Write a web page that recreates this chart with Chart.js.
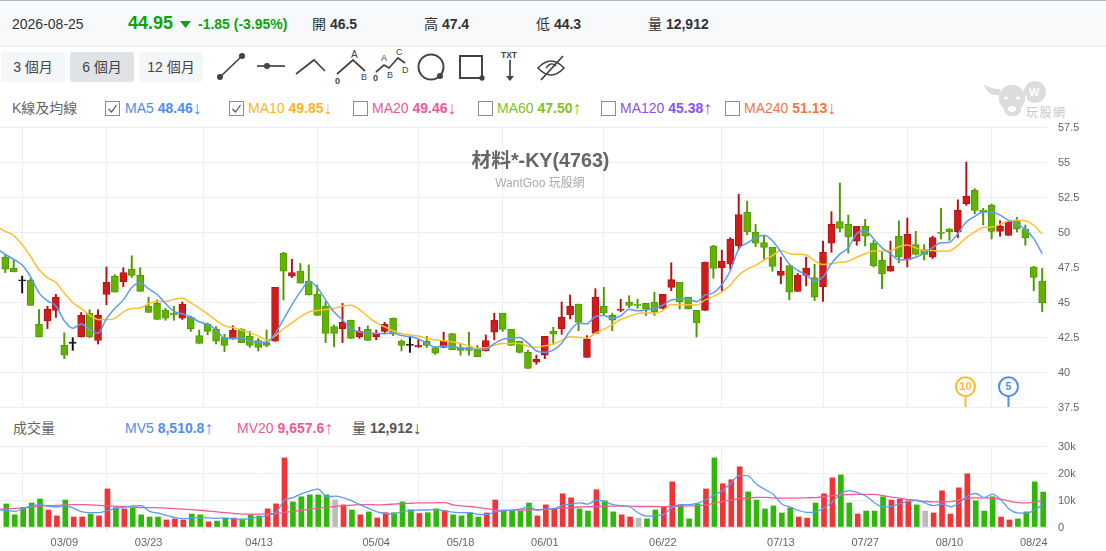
<!DOCTYPE html>
<html lang="zh-Hant">
<head>
<meta charset="UTF-8" />
<title>材料*-KY(4763)</title>
<script src="https://cdn.jsdelivr.net/npm/chart.js"></script>
<style>
  html, body { margin: 0; padding: 0; background: #fff; overflow: hidden; }
  body { width: 1106px; height: 551px; position: relative; font-family: "Liberation Sans", "Noto Sans CJK TC", sans-serif; font-size: 14px; color: #333; }
  .abs { position: absolute; white-space: nowrap; line-height: 16px; }
  #top { position: absolute; left: 0; top: 0; width: 1106px; height: 47px; background: #f7f9fb; border-top: 1px solid #b2bac2; border-bottom: 1px solid #e8ebee; box-sizing: border-box; }
  .btn { position: absolute; top: 52px; height: 30px; width: 64px; line-height: 30px; text-align: center; background: #f5f6f8; border-radius: 3px; color: #444; }
  .box { position: absolute; top: 101px; width: 13px; height: 13px; border: 1px solid #8c8c8c; background: #fff; }
  .box svg { position: absolute; left: 1px; top: 1px; }
  b { font-weight: bold; }
  canvas { position: absolute; left: 0; }
  .arrow { font-weight: normal; font-size: 18px; line-height: 0; vertical-align: -1px; }
</style>
</head>
<body>
<div id="top"></div>
<div class="abs" style="left:12px;top:16px;">2026-08-25</div>
<div class="abs" style="left:128px;top:15px;font-size:18px;font-weight:bold;color:#0aa50a;">44.95</div>
<svg class="abs" style="left:180px;top:21px;" width="12" height="8"><path d="M0 0H11L5.5 7Z" fill="#0aa50a"/></svg>
<div class="abs" style="left:198px;top:16px;font-weight:bold;color:#0aa50a;">-1.85 (-3.95%)</div>
<div class="abs" style="left:312px;top:16px;">開 <b>46.5</b></div>
<div class="abs" style="left:424px;top:16px;">高 <b>47.4</b></div>
<div class="abs" style="left:536px;top:16px;">低 <b>44.3</b></div>
<div class="abs" style="left:648px;top:16px;">量 <b>12,912</b></div>

<div class="btn" style="left:1px;">3 個月</div>
<div class="btn" style="left:70px;background:#dfe3e6;">6 個月</div>
<div class="btn" style="left:139px;">12 個月</div>

<svg class="abs" style="left:0;top:0;" width="1106" height="125" fill="none" stroke="#444" stroke-width="1.7">
  <path d="M220 77L242 56"/><circle cx="220" cy="77" r="2.2" fill="#444"/><circle cx="242" cy="56" r="2.2" fill="#444"/>
  <path d="M257 66H285"/><circle cx="267" cy="66" r="2.2" fill="#444"/>
  <path d="M296 74L314 60L325 71"/>
  <path d="M337 74L353 60L365 71"/>
  <path d="M376 72L384 65L389 68L398 58L405 63"/>
  <circle cx="431" cy="67" r="12.5" stroke-width="2"/><circle cx="440" cy="76" r="2.2" fill="#444"/>
  <rect x="460" y="56" width="22" height="22" stroke-width="2"/><circle cx="482" cy="78" r="1.8" fill="#444"/>
  <path d="M510 60V79"/><path d="M506 76H514L510 81Z" fill="#444" stroke="none"/>
  <path d="M538 68Q551 54 564 68Q551 82 538 68Z" stroke-width="1.6"/><path d="M541 80L563 56" stroke-width="1.8"/><path d="M546 68Q551 61 556 66" stroke-width="1.4"/>
  <g fill="#444" stroke="none" font-size="9" font-family="Liberation Sans">
    <text x="351" y="58" font-size="10">A</text><text x="335" y="84" font-weight="bold">0</text><text x="361" y="80">B</text>
    <text x="381" y="61">A</text><text x="396" y="55">C</text><text x="387" y="78">B</text><text x="402" y="73">D</text><text x="373" y="81" font-weight="bold">0</text>
    <text x="501" y="58" font-weight="bold" font-size="8.5">TXT</text>
  </g>
</svg>

<svg class="abs" style="left:980px;top:76px;" width="90" height="46">
  <g fill="#dcdcdc">
    <circle cx="55" cy="16" r="11"/>
    <circle cx="32" cy="22" r="14" stroke="#fff" stroke-width="1.5"/>
    <path d="M4 8Q7 21 22 19L20 13Q10 13 4 8Z"/><path d="M60 8Q56 21 42 19L44 13Q54 13 60 8Z"/>
    <rect x="24" y="22" width="17" height="18" rx="7"/>
  </g>
  <circle cx="26" cy="22" r="1.8" fill="#fff"/><circle cx="38" cy="22" r="1.8" fill="#fff"/>
  <ellipse cx="32" cy="33" rx="4" ry="3" fill="#fff"/>
  <text x="49" y="20" font-size="11" font-weight="bold" fill="#fff" font-family="Liberation Sans">W</text>
  <text x="46" y="41" font-size="12" letter-spacing="1.5" fill="#c8c8c8">玩股網</text>
</svg>

<div class="abs" style="left:12px;top:100px;color:#666;">K線及均線</div>
<div class="box" style="left:105px;"><svg width="11" height="11"><path d="M1.5 6L4.5 9L9.5 2" fill="none" stroke="#555" stroke-width="1.2"/></svg></div>
<div class="abs" style="left:125px;top:100px;color:#4d8ef7;">MA5 <b>48.46</b><span class="arrow">↓</span></div>
<div class="box" style="left:229px;"><svg width="11" height="11"><path d="M1.5 6L4.5 9L9.5 2" fill="none" stroke="#555" stroke-width="1.2"/></svg></div>
<div class="abs" style="left:248px;top:100px;color:#fdb515;">MA10 <b>49.85</b><span class="arrow">↓</span></div>
<div class="box" style="left:353px;"></div>
<div class="abs" style="left:372px;top:100px;color:#ec5a93;">MA20 <b>49.46</b><span class="arrow">↓</span></div>
<div class="box" style="left:478px;"></div>
<div class="abs" style="left:497px;top:100px;color:#7fc31c;">MA60 <b>47.50</b><span class="arrow">↑</span></div>
<div class="box" style="left:601px;"></div>
<div class="abs" style="left:620px;top:100px;color:#8b52ee;">MA120 <b>45.38</b><span class="arrow">↑</span></div>
<div class="box" style="left:725px;"></div>
<div class="abs" style="left:744px;top:100px;color:#fa7343;">MA240 <b>51.13</b><span class="arrow">↓</span></div>

<canvas id="priceChart" style="top:120px;" width="1106" height="295"></canvas>
<canvas id="volumeChart" style="top:440px;" width="1106" height="111"></canvas>

<div class="abs" style="left:0;width:1081px;text-align:center;top:150px;font-size:19.7px;line-height:20px;font-weight:bold;color:#666;">材料*-KY(4763)</div>
<div class="abs" style="left:0;width:1080px;text-align:center;top:175px;font-size:12px;color:#aaa;">WantGoo 玩股網</div>

<div class="abs" style="left:13px;top:420px;color:#666;">成交量</div>
<div class="abs" style="left:125px;top:420px;color:#4d8ef7;">MV5 <b>8,510.8</b><span class="arrow">↑</span></div>
<div class="abs" style="left:237px;top:420px;color:#ec5a93;">MV20 <b>9,657.6</b><span class="arrow">↑</span></div>
<div class="abs" style="left:352px;top:420px;color:#555;">量 <b>12,912</b><span class="arrow">↓</span></div>

<script>
// values, one entry per trading day
const opens = [48.2,47.4,46.5,46.55,43.4,43.65,44.4,41.9,42.05,42.5,
  44.2,42.25,45.55,46.85,46.45,47.35,46.9,44.7,44.9,44.4,
  44.2,43.85,43.9,42.6,43.4,43.05,42.45,42.35,43.05,42.55,
  42.25,42.1,42.2,48.5,46.85,47.2,46.5,45.55,44.7,43.25,
  43.1,43.7,42.5,43.05,42.5,42.9,43.85,42.2,41.9,41.8,
  42.2,41.75,41.75,42.75,41.75,41.75,41.55,41.5,42.85,44.2,
  43.05,42.2,41.4,40.7,41.2,42.9,43.1,44.1,44.85,41.05,
  42.75,44.7,44.05,44.4,45,44.85,44.9,45,44.55,46.05,
  46.4,45.35,44.4,44.4,49,47.45,47.7,49,51.4,50,
  49.25,48.9,46.9,47.6,45.75,46.9,46.75,46.1,49.2,50.75,
  50.55,49.35,50.4,49.2,48,47.2,49.7,48,49.1,48.75,
  48.2,50,50.2,50,52,53,51.55,51.9,50.05,49.75,
  50.85,50.2,47.5,46.5];
const highs = [48.4,48,46.85,46.7,44.45,44.7,45.55,42.8,42.45,44.25,
  44.45,44.45,47.5,46.95,47.45,48.3,47.45,45.35,45.15,44.55,
  44.7,45,44,43,43.5,43.25,42.7,43.3,43.1,42.9,
  42.4,43,46.05,48.55,48.05,47.75,47.65,46.2,45.05,43.35,
  44.9,43.7,43.2,43.3,43,43.55,43.85,42.3,42.5,42.3,
  42.55,41.8,42.85,42.75,42,42.85,41.9,42.65,44.2,44.2,
  43.05,42.2,41.55,41.2,42.55,43.2,45,45.5,44.85,42.6,
  45.95,46.05,44.2,45.2,45.45,45.2,44.9,45.7,45.55,47.8,
  46.4,45.35,44.4,47.85,49.05,48.7,49.6,52.7,52.2,50.55,
  49.75,48.9,48.2,47.6,47.05,48.2,47.7,49.35,51.45,53.5,
  51.2,50.4,50.9,49.4,48.6,49.35,50.8,51,50.05,49.1,
  49.7,51.7,50.25,52.3,55,53.1,51.7,52,50.8,50.75,
  51.05,50.5,47.55,47.4];
const lows = [47.1,47.15,45.65,44.75,42.5,43.1,43.9,40.95,41.55,42.5,
  42.45,42,44.8,45.7,46.1,46.75,45.75,44.25,43.75,43.7,
  43.7,43.75,42.9,42.05,42.65,42,41.45,42.35,42.1,41.75,
  41.5,41.8,42.2,45.15,46.75,46.35,45.5,44.05,42.1,41.8,
  42.1,42.4,42.4,42.25,42.3,42.75,42.6,41.5,41.4,41.75,
  41.75,41.25,41.75,41.6,41.2,41.2,41.1,41.5,42.3,42.9,
  41.9,41.35,40.25,40.55,40.95,42.05,42.7,43.8,42.95,41.05,
  42.75,44.05,42.95,44.3,44.6,44.55,44.05,44.05,44.5,45.8,
  44.5,44.5,42.5,44.4,46.7,45.8,47.35,48.75,49.8,48.95,
  48.05,47.2,46.3,45.15,45.75,46.15,45.1,45.05,48.55,50,
  48.5,49.05,49,47.5,45.95,47.2,47.8,47.5,48.35,48,
  48.1,49.5,49.4,49.6,51.9,51.3,50.5,49.5,49.7,49.75,
  50,49.05,45.8,44.3];
const closes = [47.35,47.15,46.5,44.75,42.5,44.5,45.35,41.2,42.05,44.05,
  42.5,44.05,46.4,45.7,47.1,46.9,45.75,44.25,43.75,43.85,
  44.1,44.85,43.1,42.05,42.9,42.2,41.9,43,42.1,41.9,
  41.75,41.9,46.05,47.2,47.1,46.35,45.5,44.05,42.75,42.75,
  43.55,42.4,42.9,42.25,42.75,43.4,42.7,41.9,41.9,41.9,
  41.9,41.35,42.2,41.6,41.55,41.55,41.1,42.25,43.7,43.05,
  41.9,41.4,40.25,40.9,42.55,42.7,43.9,44.7,43.55,42.35,
  45.35,44.2,43.7,44.45,44.75,44.75,44.5,44.3,45.55,46.6,
  45,44.5,43.5,47.85,47.4,47.9,49.5,51.25,50,49.2,
  48.9,47.55,47.2,45.7,46.9,47.4,45.35,48.55,50.55,50.25,
  49.65,50.4,49.7,47.6,47,47.55,48.2,49.85,48.4,48.4,
  49.6,49.9,50,51.55,52.55,51.55,51.45,50.05,50.4,50.7,
  50.2,49.6,46.75,44.95];

// moving averages start one day before the first visible candle
const ma5 = [48.8,48.4,48.05,47.64,46.8,45.65,45.08,44.72,43.66,43.12,43.43,
  43.03,42.77,43.81,44.54,45.15,46.03,46.37,45.94,45.55,44.9,
  44.34,44.16,43.93,43.59,43.4,43.02,42.43,42.41,42.42,42.22,
  42.13,42.13,42.74,43.76,44.8,45.72,46.44,46.04,45.15,44.28,
  43.72,43.1,42.87,42.77,42.77,42.74,42.8,42.6,42.53,42.36,
  42.06,41.79,41.85,41.79,41.72,41.65,41.6,41.61,42.03,42.33,
  42.4,42.46,42.06,41.5,41.4,41.56,42.06,42.95,43.48,43.44,
  43.97,44.03,43.83,44.01,44.49,44.37,44.43,44.55,44.77,45.14,
  45.19,45.19,45.03,45.49,45.65,46.23,47.23,48.78,49.21,49.57,
  49.77,49.38,48.57,47.71,47.25,46.95,46.51,46.78,47.75,48.42,
  48.87,49.88,50.11,49.52,48.87,48.45,48.01,48.04,48.2,48.48,
  48.89,49.23,49.26,49.89,50.72,51.11,51.42,51.43,51.2,50.83,
  50.56,50.19,49.53,48.46];
const ma10 = [50.35,50.05,49.75,49.1,48.25,47.3,46.74,46.39,45.65,44.96,44.54,
  44.06,43.75,43.74,43.83,44.29,44.53,44.57,44.88,45.05,45.03,
  45.19,45.27,44.94,44.57,44.15,43.68,43.3,43.17,43,42.81,
  42.58,42.28,42.58,43.09,43.51,43.93,44.29,44.39,44.46,44.54,
  44.72,44.77,44.46,43.96,43.53,43.23,42.95,42.74,42.65,42.57,
  42.4,42.3,42.23,42.16,42.04,41.86,41.7,41.73,41.91,42.03,
  42.03,42.03,41.84,41.77,41.87,41.98,42.26,42.51,42.49,42.42,
  42.77,43.05,43.39,43.75,43.97,44.17,44.23,44.19,44.39,44.82,
  44.78,44.81,44.79,45.13,45.4,45.71,46.21,46.91,47.35,47.61,
  48,48.31,48.68,48.46,48.41,48.36,47.95,47.68,47.73,47.84,
  47.91,48.2,48.45,48.64,48.65,48.66,48.95,49.08,48.86,48.68,
  48.67,48.62,48.65,49.05,49.6,50,50.33,50.35,50.55,50.78,
  50.84,50.81,50.48,49.85];

// volume in thousands
const volumes = [8.55,4.5,7.3,8.9,10.4,6.3,4.1,10,3.7,3.7,
  4.8,4.1,14.1,7.2,6.7,7.1,4.5,3.7,3.7,2.6,
  3,2.6,4.8,4.5,1.9,2.2,3.3,3.3,3,4.5,
  4.1,6.7,8.55,25.6,9.3,11.2,11.9,11.9,11.9,10,
  8.2,6.3,4.5,5.6,3.35,5.3,5.3,9.3,6.4,5,
  5.3,6.7,6.1,4.5,4.1,5.3,3.7,5.2,10,6.3,
  5.9,5.9,8.9,4.1,8.2,6.7,12.3,10.8,6.7,5.9,
  13.8,9.7,5.6,4.5,3.7,3.3,3,6.3,7.4,16.7,
  8.2,3,8.55,14.1,25.6,16,17.5,22.3,13,10,
  6.7,7.8,5.2,7.1,3.7,3.3,8.9,12.3,18.2,19.3,
  8.9,4.8,5.9,5.9,11.2,10,10.3,9.7,8.2,5.9,
  5.2,13.4,4.8,14.5,19.7,9.7,5.9,11.2,3.7,2.6,
  3,5.6,16.7,12.912];
const volumeDir = "ggggg" + "rrgrr" + "grrgr" + "ggggr" + "rrggr" + "ggrgg" + "grrrg" + "ggggn" +
  "rgrgr" + "rgggr" + "ggrgg" + "ggrrg" + "gggrr" + "rrrgg" + "rggrr" + "nggrr" +
  "gggrg" + "rrrgg" + "ggggr" + "rgrrg" + "grggg" + "rrrgn" + "rrrrr" + "gggrr" + "gggg";
const mv5 = [6.4,6.1,5.8,6.8,7.8,8.3,7.6,7.4,7.9,6.9,5.6,
  5.3,5.3,6.1,6.8,7.4,7.8,7.9,5.8,5.1,4.3,
  3.5,3.1,3.3,3.5,3.4,3.2,3.3,3,2.7,3.3,
  3.6,4.3,5.4,9.9,10.9,12.3,13.3,14,11.2,11.4,
  10.8,9.7,8.2,6.9,5.6,5,4.8,5.8,6,6.3,
  6.3,6.5,5.9,5.5,5.3,5.3,4.7,4.6,5.7,6.1,
  6.2,6.7,7.4,6.2,6.6,6.8,8,8.4,8.9,8.5,
  9.9,9.4,8.3,7.9,7.4,5.2,4,4.2,4.7,7.3,
  8.3,8.3,8.8,10.1,11.9,13.5,16.4,19.1,18.9,15.8,
  13.9,12,8.5,7.4,6.1,5.4,5.6,7.1,9.3,12.4,
  13.5,12.7,11.4,9,7.4,7.6,8.7,9.4,9.9,8.8,
  7.9,8.5,7.5,8.8,11.5,12.4,10.9,12.2,10,6.5,
  5.2,5.1,6.3,8.51];
const mv20 = [6.6,6.7,6.9,7.1,7.4,7.7,7.9,8,8.2,8.3,8.3,
  8.2,8,7.8,7.7,7.6,7.4,7.2,7.2,7.1,7,
  6.8,6.6,6.4,6.2,5.9,5.6,5.3,5,4.8,4.8,
  4.8,4.9,5,5.4,5.8,6.2,6.6,7,7.3,7.6,
  7.9,8.1,8.3,8.3,8.2,8.3,8.5,8.7,8.8,8.9,
  8.9,9,9,8.2,7.8,7.6,7.2,6.8,6.3,6.1,
  6.2,6.3,6.3,6.4,6.6,6.8,7,7.2,7.4,7.5,
  7.6,7.7,7.7,7.7,7.7,7.6,7.6,7.6,7.5,7.6,
  7.7,7.8,7.9,8.2,8.8,9.5,10,10.5,10.7,11,
  11,10.8,10.7,10.7,10.7,10.8,10.9,11.2,11.6,11.9,
  12,12.1,12.1,12.1,11.6,11.1,10.7,10.2,9.8,9.5,
  9.3,9.3,9.4,10,10.6,10.8,10.8,10.6,10.3,9.6,
  9,8.9,9.3,9.66];

// axis ticks
const dateLabels = ["03/09","03/23","04/13","05/04","05/18","06/01","06/22","07/13","07/27","08/10","08/24"];
const dateIndex = [7,17,30.1,44,54,64,78,92,102,112,122];
const priceTicks = [37.5,40,42.5,45,47.5,50,52.5,55,57.5];
const volumeTicks = [0,10,20,30];

// the "10" and "5" flags under the candles
const flagLabels = ["10","5"];
const flagIndex = [113.9,119];
const flagColors = ["#fdbb2d","#4d8ef7"];
const flagPrice = 38.95;

const GRID = "#eeeeee";
const SLOT = 8.43;
const PLOT_W = 1047;

function candleColor(i, up, down, flat) {
  return closes[i] > opens[i] ? up : closes[i] < opens[i] ? down : flat;
}
const days = closes.map((_, i) => i);

const flagPlugin = {
  id: "flags",
  afterDatasetsDraw(chart) {
    const { ctx, scales } = chart;
    flagIndex.forEach((idx, k) => {
      const x = scales.x.getPixelForValue(idx);
      const y = scales.y.getPixelForValue(flagPrice);
      const bottom = scales.y.getPixelForValue(37.5);
      ctx.save();
      ctx.strokeStyle = flagColors[k];
      ctx.lineWidth = 2;
      ctx.beginPath();
      ctx.moveTo(x, y + 10);
      ctx.lineTo(x, bottom);
      ctx.stroke();
      ctx.beginPath();
      ctx.arc(x, y, 9.5, 0, Math.PI * 2);
      ctx.fillStyle = "#fff";
      ctx.fill();
      ctx.stroke();
      ctx.fillStyle = flagColors[k];
      ctx.font = "bold 11px 'Liberation Sans'";
      ctx.textAlign = "center";
      ctx.textBaseline = "middle";
      ctx.fillText(flagLabels[k], x, y + 0.5);
      ctx.restore();
    });
  }
};

const xGrid = { color: GRID, lineWidth: 1 };

function yAxis(ticks, min, max, label) {
  return {
    position: "right",
    min: min,
    max: max,
    afterBuildTicks: s => { s.ticks = ticks.map(v => ({ value: v })); },
    afterFit: s => { s.width = 59; s.paddingTop = 0; s.paddingBottom = 0; },
    grid: { color: GRID, drawTicks: false },
    border: { display: false },
    ticks: { color: "#666", padding: 11, labelOffset: 1, font: { size: 11, family: "Liberation Sans" }, callback: label }
  };
}

new Chart(document.getElementById("priceChart"), {
  type: "bar",
  data: {
    datasets: [
      {
        type: "line",
        order: 0,
        data: ma5.map((v, i) => ({ x: i - 1, y: v })),
        borderColor: "#5b9bf6",
        borderWidth: 1.5,
        pointRadius: 0,
        cubicInterpolationMode: "monotone"
      },
      {
        type: "line",
        order: 1,
        data: ma10.map((v, i) => ({ x: i - 1, y: v })),
        borderColor: "#fec02f",
        borderWidth: 1.5,
        pointRadius: 0,
        cubicInterpolationMode: "monotone"
      },
      {
        order: 2,
        grouped: false,
        barThickness: 7,
        minBarLength: 1.2,
        borderWidth: 1,
        borderSkipped: false,
        data: days.map(i => ({ x: i, y: [opens[i], closes[i]] })),
        backgroundColor: days.map(i => candleColor(i, "#d01b1b", "#63b200", "#111")),
        borderColor: days.map(i => candleColor(i, "#b71212", "#4f9a00", "#111"))
      },
      {
        order: 3,
        grouped: false,
        barThickness: 1.3,
        data: days.map(i => ({ x: i, y: [lows[i], highs[i]] })),
        backgroundColor: days.map(i => candleColor(i, "#b71212", "#4f9a00", "#111"))
      }
    ]
  },
  options: {
    responsive: false,
    animation: false,
    events: [],
    layout: { padding: { top: 7, bottom: 8, left: 0, right: 0 } },
    plugins: { legend: { display: false }, tooltip: { enabled: false } },
    scales: {
      x: {
        type: "linear",
        offset: false,
        min: -5.3 / SLOT,
        max: -5.3 / SLOT + PLOT_W / SLOT,
        afterBuildTicks: s => { s.ticks = dateIndex.map(v => ({ value: v })); },
        afterFit: s => { s.height = 0; },
        grid: { ...xGrid, drawTicks: false },
        border: { display: false },
        ticks: { display: false }
      },
      y: yAxis(priceTicks, 37.5, 57.5, v => String(v))
    }
  },
  plugins: [flagPlugin]
});

new Chart(document.getElementById("volumeChart"), {
  type: "bar",
  data: {
    datasets: [
      {
        type: "line",
        order: 0,
        data: mv5.map((v, i) => ({ x: i - 1, y: v })),
        borderColor: "#5b9bf6",
        borderWidth: 1.3,
        pointRadius: 0,
        cubicInterpolationMode: "monotone"
      },
      {
        type: "line",
        order: 1,
        data: mv20.map((v, i) => ({ x: i - 1, y: v })),
        borderColor: "#ee5d97",
        borderWidth: 1.3,
        pointRadius: 0,
        cubicInterpolationMode: "monotone"
      },
      {
        order: 2,
        grouped: false,
        barThickness: 5,
        data: volumes.map((v, i) => ({ x: i, y: v })),
        backgroundColor: volumes.map((_, i) => ({ r: "#ef3535", g: "#2fb70a", n: "#bbbbbb" })[volumeDir[i]])
      }
    ]
  },
  options: {
    responsive: false,
    animation: false,
    events: [],
    layout: { padding: { top: 6, left: 0, right: 0, bottom: 0 } },
    plugins: { legend: { display: false }, tooltip: { enabled: false } },
    scales: {
      x: {
        type: "linear",
        offset: false,
        min: -6.3 / SLOT,
        max: -6.3 / SLOT + PLOT_W / SLOT,
        afterBuildTicks: s => { s.ticks = dateIndex.map(v => ({ value: v - 1 / SLOT })); },
        afterFit: s => { s.height = 24; },
        grid: { ...xGrid, tickColor: "#e2e2e2", tickLength: 4 },
        border: { color: "#e4e4e4" },
        ticks: {
          color: "#666",
          padding: 5,
          autoSkip: false,
          maxRotation: 0,
          font: { size: 11, family: "Liberation Sans" },
          callback: (v, i) => dateLabels[i]
        }
      },
      y: yAxis(volumeTicks, 0, 30, v => (v ? v + "k" : "0"))
    }
  }
});
</script>
</body>
</html>
